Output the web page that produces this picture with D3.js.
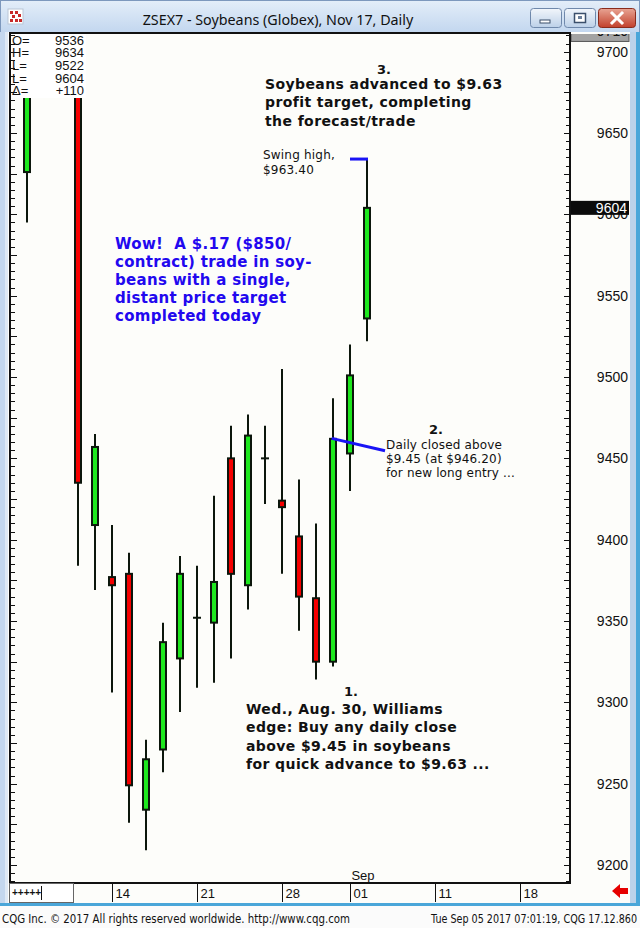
<!DOCTYPE html>
<html><head><meta charset="utf-8">
<script src="https://cdn.jsdelivr.net/npm/d3@7/dist/d3.min.js"></script>
<style>body{margin:0;background:#fff;} svg{display:block;}</style>
</head><body><div id="chart"></div>
<script>
// ---- data ----
const dates  = ["Aug 07","Aug 08","Aug 09","Aug 10","Aug 11","Aug 14","Aug 15","Aug 16","Aug 17","Aug 18","Aug 21","Aug 22","Aug 23","Aug 24","Aug 25","Aug 28","Aug 29","Aug 30","Aug 31","Sep 01","Sep 05"];
const opens  = [9626,9730,9752,9738,9409,9377,9379,9234,9271,9327,9352,9349,9450,9372,9450,9424,9402,9364,9325,9453,9536];
const highs  = [9738,9768,9775,9745,9465,9409,9392,9277,9349,9390,9384,9427,9470,9477,9470,9505,9437,9410,9487,9520,9634];
const lows   = [9595,9718,9722,9384,9369,9306,9226,9209,9257,9294,9309,9312,9327,9357,9422,9379,9344,9314,9322,9430,9522];
const closes = [9728,9752,9742,9435,9457,9372,9249,9265,9337,9379,9352,9374,9379,9464,9450,9420,9365,9325,9462,9501,9604];
const priceTicks = [9200,9250,9300,9350,9400,9450,9500,9550,9600,9650,9700];
const dateTickIdx = [5,10,15,19,24,29];
const dateTickLabels = ["14","21","28","01","11","18"];
const monthLabels = ["Sep"];
const monthIdx = [19];
const infoLabels = ["O=","H=","L=","L=","\u0394="];
const infoValues = ["9536","9634","9522","9604","+110"];
const lastPrice = 9604;
const topPrice = 9710;
const swingHigh = 9634;          // from Sep 01 slot to Sep 05 slot
const entryLine = [[17.92,9462.3],[21.06,9454.7]]; // Aug 31 close annotation

// ---- layout ----
const W=640,H=928;
const L=10,R=570,T=33,B=883;
const y = d3.scaleLinear().domain([9200,9700]).range([865,51.7]);
const x = d3.scaleLinear().domain([0,20]).range([27,367]);

const svg = d3.select("#chart").append("svg").attr("width",W).attr("height",H);
const defs = svg.append("defs");
const tg = defs.append("linearGradient").attr("id","tb").attr("x1",0).attr("y1",0).attr("x2",0).attr("y2",1);
tg.append("stop").attr("offset","0%").attr("stop-color","#e4eef9");
tg.append("stop").attr("offset","100%").attr("stop-color","#c3d7ef");
const bg = defs.append("linearGradient").attr("id","btn").attr("x1",0).attr("y1",0).attr("x2",0).attr("y2",1);
bg.append("stop").attr("offset","0%").attr("stop-color","#f2f6fb");
bg.append("stop").attr("offset","100%").attr("stop-color","#bcd0e8");
const rg = defs.append("linearGradient").attr("id","cls").attr("x1",0).attr("y1",0).attr("x2",0).attr("y2",1);
rg.append("stop").attr("offset","0%").attr("stop-color","#e8a493");
rg.append("stop").attr("offset","100%").attr("stop-color","#c2402c");
defs.append("clipPath").attr("id","plotclip").append("rect").attr("x",L+1).attr("y",T+1).attr("width",R-L-1).attr("height",B-T-1);
defs.append("clipPath").attr("id","axclip").append("rect").attr("x",R+1).attr("y",T+1).attr("width",60).attr("height",B-T-1);

// window chrome
svg.append("rect").attr("x",0).attr("y",0).attr("width",W).attr("height",906).attr("fill","#c4d7ee");
svg.append("rect").attr("x",0).attr("y",0).attr("width",W).attr("height",32).attr("fill","url(#tb)");
svg.append("rect").attr("x",0.5).attr("y",0.5).attr("width",W-1).attr("height",905).attr("fill","none").attr("stroke","#7d98bd");
svg.append("rect").attr("x",636).attr("y",32).attr("width",4).attr("height",874).attr("fill","#4aa6d9");
// icon
const ic = svg.append("g");
ic.append("rect").attr("x",8).attr("y",9).attr("width",15).attr("height",15).attr("fill","#fff").attr("stroke","#b9c6d6");
[[10,11],[15,11],[12,15],[18,14],[10,19],[15,19],[19,19]].forEach(p=>ic.append("rect").attr("x",p[0]).attr("y",p[1]).attr("width",3).attr("height",3).attr("fill","#c82a2a"));
svg.append("text").attr("x",278).attr("y",25).attr("text-anchor","middle")
  .attr("font-family","'Noto Sans',sans-serif").attr("font-size",14.3).attr("fill","#111")
  .text("ZSEX7 - Soybeans (Globex), Nov 17, Daily");
// buttons
[[530,"min"],[564,"max"]].forEach(b=>{
  svg.append("rect").attr("x",b[0]+0.5).attr("y",8.5).attr("width",31).attr("height",19).attr("rx",3).attr("fill","url(#btn)").attr("stroke","#6f88ab");
});
svg.append("rect").attr("x",540).attr("y",20).attr("width",10).attr("height",3).attr("fill","#fff").attr("stroke","#3b4f6b").attr("stroke-width",1);
svg.append("rect").attr("x",574.5).attr("y",13.5).attr("width",11).attr("height",9).attr("fill","#fff").attr("stroke","#3b4f6b").attr("stroke-width",1.5);
svg.append("rect").attr("x",578).attr("y",16).attr("width",4).attr("height",3).attr("fill","#6b7f9a");
svg.append("rect").attr("x",598.5).attr("y",8.5).attr("width",37).attr("height",19).attr("rx",3).attr("fill","url(#cls)").attr("stroke","#8a2b1c");
svg.append("path").attr("d","M612,13 L622,23 M622,13 L612,23").attr("stroke","#fff").attr("stroke-width",3).attr("stroke-linecap","square");

// client area
svg.append("rect").attr("x",8).attr("y",32).attr("width",628).attr("height",872).attr("fill","#fdfdfa");
svg.append("rect").attr("x",630).attr("y",32).attr("width",6).attr("height",872).attr("fill","#bcd2ea");
svg.append("rect").attr("x",0).attr("y",32).attr("width",8).attr("height",874).attr("fill","#c4d7ee");
svg.append("rect").attr("x",5).attr("y",32).attr("width",3).attr("height",872).attr("fill","#dfe9f5");
svg.append("rect").attr("x",0).attr("y",903).attr("width",W).attr("height",3).attr("fill","#4aa6d9");
// footer
svg.append("rect").attr("x",0).attr("y",906).attr("width",W).attr("height",22).attr("fill","#fbfbfb");
svg.append("text").attr("x",2).attr("y",923).attr("font-family","'DejaVu Sans',sans-serif").attr("font-size",12)
  .attr("textLength",348).attr("lengthAdjust","spacingAndGlyphs").attr("fill","#111")
  .text("CQG Inc. \u00a9 2017 All rights reserved worldwide. http://www.cqg.com");
svg.append("text").attr("x",431).attr("y",923).attr("font-family","'DejaVu Sans',sans-serif").attr("font-size",12)
  .attr("textLength",206).attr("lengthAdjust","spacingAndGlyphs").attr("fill","#111")
  .text("Tue Sep 05 2017 07:01:19, CQG 17.12.860");

// candles
const data = dates.map((d,i)=>({d,i,o:opens[i],h:highs[i],l:lows[i],c:closes[i]}));
const pg = svg.append("g").attr("clip-path","url(#plotclip)");
const ink = "#0c160c";
pg.selectAll("line.wick").data(data).join("line").attr("class","wick")
  .attr("x1",d=>x(d.i)).attr("x2",d=>x(d.i)).attr("y1",d=>y(d.h)).attr("y2",d=>y(d.l))
  .attr("stroke",ink).attr("stroke-width",2);
pg.selectAll("rect.body").data(data.filter(d=>d.o!==d.c)).join("rect").attr("class","body")
  .attr("x",d=>x(d.i)-3).attr("width",6)
  .attr("y",d=>y(Math.max(d.o,d.c))).attr("height",d=>Math.abs(y(d.o)-y(d.c)))
  .attr("fill",d=>d.c>d.o?"#1ee81e":"#f50000").attr("stroke",ink).attr("stroke-width",2);
pg.selectAll("line.doji").data(data.filter(d=>d.o===d.c)).join("line").attr("class","doji")
  .attr("x1",d=>x(d.i)-4).attr("x2",d=>x(d.i)+4).attr("y1",d=>y(d.o)).attr("y2",d=>y(d.o))
  .attr("stroke",ink).attr("stroke-width",2);

// info box
svg.append("rect").attr("x",11).attr("y",34).attr("width",75).attr("height",64).attr("fill","#fff");
infoLabels.forEach((t,k)=>{
  svg.append("text").attr("x",12).attr("y",44.7+k*12.65).attr("font-family","'Liberation Sans',Arial,sans-serif").attr("font-size",13).attr("fill","#111").text(t);
  svg.append("text").attr("x",84).attr("y",44.7+k*12.65).attr("text-anchor","end").attr("font-family","'Liberation Sans',Arial,sans-serif").attr("font-size",13).attr("fill","#111").text(infoValues[k]);
});

// frame
svg.append("line").attr("x1",10).attr("x2",10).attr("y1",T).attr("y2",B+1).attr("stroke","#111").attr("stroke-width",2);
svg.append("line").attr("x1",9).attr("x2",R+1).attr("y1",T).attr("y2",T).attr("stroke","#111").attr("stroke-width",2);
svg.append("line").attr("x1",R).attr("x2",R).attr("y1",T).attr("y2",B+1).attr("stroke","#111").attr("stroke-width",2);
svg.append("line").attr("x1",9).attr("x2",R+1).attr("y1",B).attr("y2",B).attr("stroke","#111").attr("stroke-width",2);

// minor/major ticks on both sides
const tickVals = d3.range(9190,9715,5).filter(v=>y(v)>T+2 && y(v)<B-1);
const tg2 = svg.append("g");
tickVals.forEach(v=>{
  const len = v%25===0?6:4;
  tg2.append("line").attr("x1",11).attr("x2",11+len).attr("y1",Math.round(y(v))+0.5).attr("y2",Math.round(y(v))+0.5).attr("stroke","#111");
  tg2.append("line").attr("x1",R-len).attr("x2",R).attr("y1",Math.round(y(v))+0.5).attr("y2",Math.round(y(v))+0.5).attr("stroke","#111");
});

// price axis labels
const ax = svg.append("g").attr("clip-path","url(#axclip)");
priceTicks.forEach(v=>{
  ax.append("text").attr("x",628).attr("y",y(v)+5).attr("text-anchor","end")
    .attr("font-family","'Liberation Sans',Arial,sans-serif").attr("font-size",14).attr("fill","#111").text(v);
});
ax.append("rect").attr("x",R+1).attr("y",y(topPrice)-9).attr("width",58).attr("height",15).attr("fill","#a3a3a3").attr("stroke","#555");
ax.append("text").attr("x",628).attr("y",y(topPrice)+1).attr("text-anchor","end")
  .attr("font-family","'Liberation Sans',Arial,sans-serif").attr("font-size",14).attr("fill","#111").text(topPrice);
svg.append("rect").attr("x",R+1).attr("y",y(lastPrice)-7).attr("width",58).attr("height",14).attr("fill","#0b0b0b");
svg.append("text").attr("x",627).attr("y",y(lastPrice)+5).attr("text-anchor","end")
  .attr("font-family","'Liberation Sans',Arial,sans-serif").attr("font-size",14).attr("fill","#fff").text(lastPrice);

// date row
svg.append("rect").attr("x",8).attr("y",B+1).attr("width",622).attr("height",19).attr("fill","#fdfdfa");
dateTickIdx.forEach((id,k)=>{
  const xx = Math.round(x(id))+0.5;
  svg.append("line").attr("x1",xx).attr("x2",xx).attr("y1",B).attr("y2",B+19).attr("stroke","#111");
  svg.append("text").attr("x",xx+3).attr("y",B+15).attr("font-family","'Liberation Sans',Arial,sans-serif").attr("font-size",13).attr("fill","#111").text(dateTickLabels[k]);
});
monthIdx.forEach((id,k)=>{
  svg.append("text").attr("x",x(id)+13).attr("y",B-3).attr("text-anchor","middle").attr("font-family","'Liberation Sans',Arial,sans-serif").attr("font-size",13).attr("fill","#111").text(monthLabels[k]);
});
svg.append("rect").attr("x",9.5).attr("y",B+0.5).attr("width",64).attr("height",19).attr("fill","#fff").attr("stroke","#666");
svg.append("text").attr("x",12).attr("y",B+13).attr("font-family","'Liberation Sans',Arial,sans-serif").attr("font-size",10).attr("font-weight","bold").attr("fill","#111").text("+++++");
svg.append("line").attr("x1",41.5).attr("x2",41.5).attr("y1",B+3).attr("y2",B+17).attr("stroke","#111");
// red arrow
svg.append("path").attr("d","M612,891 L620,884 L620,888 L628,888 L628,894 L620,894 L620,898 Z").attr("fill","#e60000");

// annotations lines
const blue="#1a14f5";
svg.append("line").attr("x1",x(19)).attr("x2",x(20)+1).attr("y1",y(swingHigh)).attr("y2",y(swingHigh)).attr("stroke",blue).attr("stroke-width",3);
svg.append("line").attr("x1",x(entryLine[0][0])).attr("y1",y(entryLine[0][1])).attr("x2",x(entryLine[1][0])).attr("y2",y(entryLine[1][1])).attr("stroke",blue).attr("stroke-width",3);

// annotation text
function block(lines,x0,y0,dy,opts){
  lines.forEach((t,k)=>{
    svg.append("text").attr("x",x0).attr("y",y0+k*dy)
      .attr("font-family",opts.family||"'DejaVu Sans',Verdana,sans-serif")
      .attr("font-size",opts.size).attr("font-weight",opts.weight||"normal")
      .attr("letter-spacing",opts.ls||0)
      .style("white-space","pre")
      .attr("fill",opts.fill||"#111").attr("text-anchor",opts.anchor||"start").text(t);
  });
}
block(["3."],384,74,0,{size:13,weight:"bold",anchor:"middle"});
block(["Soybeans advanced to $9.63","profit target, completing","the forecast/trade"],265,89,18.3,{size:14,weight:"bold",ls:0.4});
block(["Swing high,","$963.40"],263,159,15,{size:12,ls:0.2});
block(["Wow!  A $.17 ($850/","contract) trade in soy-","beans with a single,","distant price target","completed today"],115,249,18,{size:15,weight:"bold",ls:0.3,fill:"#2208ef"});
block(["2."],436,434,0,{size:13,weight:"bold",anchor:"middle"});
block(["Daily closed above","$9.45 (at $946.20)","for new long entry ..."],386,449,14,{size:12,ls:0.15});
block(["1."],351,696,0,{size:13,weight:"bold",anchor:"middle"});
block(["Wed., Aug. 30, Williams","edge: Buy any daily close","above $9.45 in soybeans","for quick advance to $9.63 ..."],246,714,18.3,{size:14,weight:"bold",ls:0.4});
</script>
</body></html>
